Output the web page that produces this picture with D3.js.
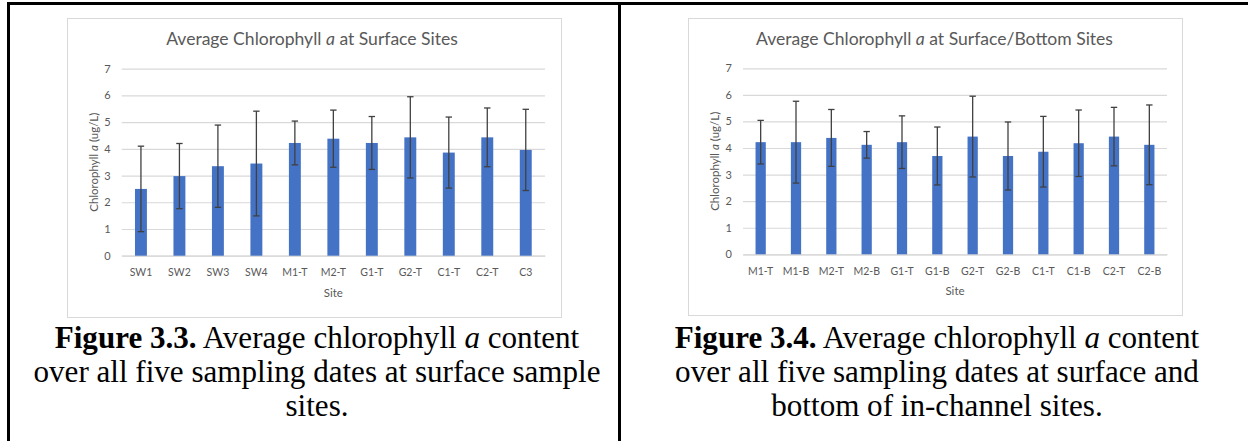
<!DOCTYPE html>
<html>
<head>
<meta charset="utf-8">
<script src="https://cdn.jsdelivr.net/npm/d3@7"></script>
<style>
  body { margin: 0; background: #fff; }
  svg { display: block; }
</style>
</head>
<body>
<script>
// Figure 3.3: surface sites
const surfaceSites  = ["SW1", "SW2", "SW3", "SW4", "M1-T", "M2-T", "G1-T", "G2-T", "C1-T", "C2-T", "C3"];
const surfaceMeans  = [2.50, 2.98, 3.35, 3.45, 4.22, 4.38, 4.22, 4.43, 3.86, 4.43, 3.96];
const surfaceErrors = [1.60, 1.22, 1.54, 1.96, 0.82, 1.07, 0.99, 1.52, 1.33, 1.10, 1.52];

// Figure 3.4: surface (T) and bottom (B) of in-channel sites
const channelSites  = ["M1-T", "M1-B", "M2-T", "M2-B", "G1-T", "G1-B", "G2-T", "G2-B", "C1-T", "C1-B", "C2-T", "C2-B"];
const channelMeans  = [4.22, 4.22, 4.38, 4.12, 4.22, 3.70, 4.43, 3.70, 3.86, 4.18, 4.43, 4.12];
const channelErrors = [0.82, 1.54, 1.07, 0.50, 0.99, 1.09, 1.52, 1.28, 1.33, 1.25, 1.10, 1.50];

const yTicks = [0, 1, 2, 3, 4, 5, 6, 7];

const W = 1248, H = 441;
const svg = d3.select("body").append("svg").attr("width", W).attr("height", H);

const chartFont = "Lato, 'Open Sans', sans-serif";
const serif = "'Liberation Serif', 'Times New Roman', serif";
const textGrey = "#595959";

// Document table borders
svg.append("rect").attr("x", 7).attr("y", 2).attr("width", W - 7).attr("height", 3).attr("fill", "#000");
svg.append("rect").attr("x", 7).attr("y", 2).attr("width", 3).attr("height", H - 2).attr("fill", "#000");
svg.append("rect").attr("x", 618).attr("y", 2).attr("width", 3).attr("height", H - 2).attr("fill", "#000");

// Shrink/grow a text's font size so it spans a given width
function fitFont(sel, target, base) {
  sel.attr("font-size", base);
  const w = sel.node().getComputedTextLength();
  const size = base * target / w;
  sel.attr("font-size", size);
  return size;
}

function drawChart(cfg) {
  const g = svg.append("g");

  g.append("rect")
    .attr("x", cfg.frame[0] + 0.5).attr("y", cfg.frame[1] + 0.5)
    .attr("width", cfg.frame[2]).attr("height", cfg.frame[3])
    .attr("fill", "#fff").attr("stroke", "#d9d9d9").attr("stroke-width", 1);

  const x = d3.scaleBand()
    .domain(cfg.sites)
    .range([cfg.plot.left, cfg.plot.right])
    .paddingInner(cfg.gap)
    .paddingOuter(cfg.gap / 2);
  const y = d3.scaleLinear().domain([0, 7]).range([cfg.plot.bottom, cfg.plot.top]);

  // Horizontal gridlines
  const yAxis = d3.axisLeft(y)
    .tickValues(yTicks)
    .tickFormat(d3.format("d"))
    .tickSize(-(cfg.plot.right - cfg.plot.left))
    .tickPadding(11);
  const ya = g.append("g").attr("transform", `translate(${cfg.plot.left},0)`).call(yAxis);
  ya.select(".domain").remove();
  ya.selectAll(".tick line").attr("stroke", "#d9d9d9").attr("stroke-width", 1.2);
  ya.selectAll(".tick text").attr("fill", textGrey).attr("font-family", chartFont).attr("font-size", 11);

  // Category axis
  const xAxis = d3.axisBottom(x).tickSize(0).tickPadding(13);
  const xa = g.append("g").attr("transform", `translate(0,${cfg.plot.bottom})`).call(xAxis);
  xa.select(".domain").attr("stroke", "#d9d9d9").attr("stroke-width", 1.2);
  xa.selectAll(".tick text").attr("fill", textGrey).attr("font-family", chartFont).attr("font-size", 10.5);

  // Bars
  g.append("g").selectAll("rect")
    .data(cfg.sites)
    .join("rect")
    .attr("x", d => x(d))
    .attr("width", x.bandwidth())
    .attr("y", (d, i) => y(cfg.means[i]))
    .attr("height", (d, i) => y(0) - y(cfg.means[i]))
    .attr("fill", "#4472c4");

  // Error bars (mean ± error)
  const eb = g.append("g").attr("stroke", "#404040").attr("stroke-width", 1.3).attr("fill", "none");
  const cap = 3.2;
  cfg.sites.forEach((d, i) => {
    const cx = x(d) + x.bandwidth() / 2;
    const hi = y(cfg.means[i] + cfg.errors[i]);
    const lo = y(cfg.means[i] - cfg.errors[i]);
    eb.append("line").attr("x1", cx).attr("x2", cx).attr("y1", hi).attr("y2", lo);
    eb.append("line").attr("x1", cx - cap).attr("x2", cx + cap).attr("y1", hi).attr("y2", hi);
    eb.append("line").attr("x1", cx - cap).attr("x2", cx + cap).attr("y1", lo).attr("y2", lo);
  });

  // Title
  const t = g.append("text")
    .attr("x", cfg.titleX).attr("y", 45)
    .attr("text-anchor", "middle")
    .attr("fill", textGrey).attr("font-family", chartFont);
  t.append("tspan").text("Average Chlorophyll ");
  t.append("tspan").attr("font-style", "italic").text("a");
  t.append("tspan").text(cfg.titleRest);
  t.attr("font-size", cfg.titleSize);

  // Axis titles
  const yl = g.append("text")
    .attr("transform", `translate(${cfg.yLabelX},${(cfg.plot.top + cfg.plot.bottom) / 2}) rotate(-90)`)
    .attr("text-anchor", "middle")
    .attr("dy", "0.35em")
    .attr("fill", textGrey).attr("font-family", chartFont).attr("font-size", 11.5);
  yl.append("tspan").text("Chlorophyll ");
  yl.append("tspan").attr("font-style", "italic").text("a");
  yl.append("tspan").text(" (ug/L)");

  g.append("text")
    .attr("x", (cfg.plot.left + cfg.plot.right) / 2).attr("y", cfg.siteY)
    .attr("text-anchor", "middle")
    .attr("fill", textGrey).attr("font-family", chartFont).attr("font-size", 11.5)
    .text("Site");
}

// Work out the shared title size from the first title's width
const probe = svg.append("text").attr("font-family", chartFont);
probe.append("tspan").text("Average Chlorophyll ");
probe.append("tspan").attr("font-style", "italic").text("a");
probe.append("tspan").text(" at Surface Sites");
const titleSize = fitFont(probe, 292, 16);
probe.remove();

drawChart({
  frame: [67, 18, 494, 299],
  plot: { left: 121.7, right: 545, top: 68.7, bottom: 255.7 },
  sites: surfaceSites, means: surfaceMeans, errors: surfaceErrors,
  gap: 0.69,
  titleX: 312, titleRest: " at Surface Sites", titleSize,
  yLabelX: 93.5, siteY: 297
});

drawChart({
  frame: [688, 18, 494, 297],
  plot: { left: 743, right: 1167, top: 68.3, bottom: 254.3 },
  sites: channelSites, means: channelMeans, errors: channelErrors,
  gap: 0.71,
  titleX: 934.5, titleRest: " at Surface/Bottom Sites", titleSize,
  yLabelX: 715, siteY: 295
});

// Captions
const captionLines = [
  { cx: 317, lines: [["Figure 3.3.", " Average chlorophyll ", "a", " content"],
                     ["", "over all five sampling dates at surface sample"],
                     ["", "sites."]] },
  { cx: 937, lines: [["Figure 3.4.", " Average chlorophyll ", "a", " content"],
                     ["", "over all five sampling dates at surface and"],
                     ["", "bottom of in-channel sites."]] }
];

const probe2 = svg.append("text").attr("font-family", serif)
  .text("over all five sampling dates at surface sample");
const capSize = fitFont(probe2, 567, 30);
probe2.remove();

const baselines = [348, 382, 416];
captionLines.forEach(c => {
  c.lines.forEach((parts, li) => {
    const tx = svg.append("text")
      .attr("x", c.cx).attr("y", baselines[li])
      .attr("text-anchor", "middle")
      .attr("font-family", serif).attr("font-size", capSize).attr("fill", "#000");
    if (parts[0]) tx.append("tspan").attr("font-weight", "bold").text(parts[0]);
    tx.append("tspan").text(parts[1]);
    if (parts[2]) {
      tx.append("tspan").attr("font-style", "italic").text(parts[2]);
      tx.append("tspan").text(parts[3]);
    }
  });
});
</script>
</body>
</html>
